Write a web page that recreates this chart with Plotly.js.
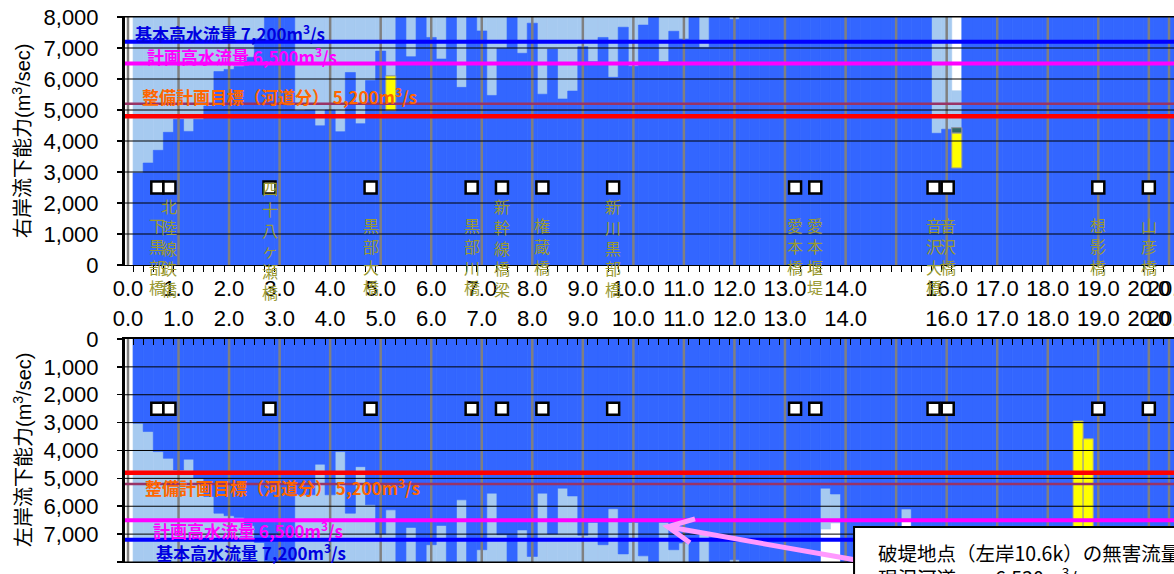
<!DOCTYPE html>
<html><head><meta charset="utf-8">
<script src="https://cdn.plot.ly/plotly-3.0.1.min.js"></script>
<style>html,body{margin:0;padding:0;overflow:hidden;background:#fff}#chart{width:1174px;height:574px}</style>
</head><body><div id="chart"></div>
<script>
// ---- data (section index 1..103 along the river; km labels on the axis) ----
const tickPos  = [0,5,10,15,20,25,30,35,40,45,50,55,60,65,71,76,81,86,91,96,101,103];
const tickText = ['0.0','1.0','2.0','3.0','4.0','5.0','6.0','7.0','8.0','9.0','10.0','11.0','12.0','13.0','14.0','','16.0','17.0','18.0','19.0','20.0','20.4'];
const yTicks = [0,1000,2000,3000,4000,5000,6000,7000,8000];

// right bank (upper chart)
const rightDark = [
 2970,3290,3700,4280,4700,4310,4700,5130,6240,6310,
 6400,6700,7300,8000,8000,8000,4980,5000,4490,5000,
 4300,6210,4560,5950,6900,6100,8000,6720,8000,7340,
 6645,8000,5730,8000,7550,5470,6990,8000,6830,7800,
 5510,6970,5355,5610,7040,6560,7340,6054,7670,6410,
 7740,8000,6560,7540,7290,8000,7020,8000,8000,7930,
 8000,8000,8000,8000,8000,8000,8000,8000,8000,8000,
 8000,8000,8000,8000,8000,8000,8000,8000,8000,4250,
 4380,4430,8000,8000,8000,8000,8000,8000,8000,8000,
 8000,8000,8000,8000,8000,8000,8000,8000,8000,8000,
 8000,8000,8000];
const rightTotal = [
 8000,8000,8000,8000,8000,8000,8000,8000,8000,8000,
 8000,8000,8000,8000,8000,8000,8000,8000,8000,8000,
 8000,8000,8000,8000,8000,8000,8000,8000,8000,8000,
 8000,8000,8000,8000,8000,8000,8000,8000,8000,8000,
 8000,8000,8000,8000,8000,8000,8000,8000,8000,8000,
 8000,8000,8000,8000,8000,8000,8000,8000,8000,8000,
 8000,8000,8000,8000,8000,8000,8000,8000,8000,8000,
 8000,8000,8000,8000,8000,8000,8000,8000,8000,8000,
 8000,5620,8000,8000,8000,8000,8000,8000,8000,8000,
 8000,8000,8000,8000,8000,8000,8000,8000,8000,8000,
 8000,8000,8000];
const rightYellowPos = [26, 82], rightYellowFrom = [4980, 3130], rightYellowTo = [6100, 4260];
const rightTealPos = [82], rightTealFrom = [4260], rightTealTo = [4430];

// left bank (lower chart, reversed)
const leftDark = [
 3020,3320,4040,4280,4700,4310,5000,5650,6250,6340,
 6400,6700,7300,8000,8000,8000,5590,5590,4490,5590,
 4040,6250,4580,5950,7000,6130,8000,6760,8000,7380,
 6690,8000,5770,8000,7560,5530,7020,8000,6850,7800,
 5530,7000,5350,5630,7040,6580,7380,6090,7710,6580,
 7780,8000,6580,7560,7320,8000,6970,8000,8000,7920,
 8000,8000,8000,8000,8000,8000,8000,8000,5350,5560,
 8000,8000,8000,8000,8000,8000,6100,8000,8000,8000,
 8000,8000,8000,8000,8000,8000,8000,8000,8000,8000,
 8000,8000,8000,2940,3580,8000,8000,8000,8000,8000,
 8000,8000,8000];
const leftTotal = [
 8000,8000,8000,8000,8000,8000,8000,8000,8000,8000,
 8000,8000,8000,8000,8000,8000,8000,8000,8000,8000,
 8000,8000,8000,8000,8000,8000,8000,8000,8000,8000,
 8000,8000,8000,8000,8000,8000,8000,8000,8000,8000,
 8000,8000,8000,8000,8000,8000,8000,8000,8000,8000,
 8000,8000,8000,8000,8000,8000,8000,8000,8000,8000,
 8000,8000,8000,8000,8000,8000,8000,8000,6820,6600,
 8000,8000,8000,8000,8000,8000,6550,8000,8000,8000,
 8000,8000,8000,8000,8000,8000,8000,8000,8000,8000,
 8000,8000,8000,8000,8000,8000,8000,8000,8000,8000,
 8000,8000,8000];
const leftYellowPos = [94, 95], leftYellowFrom = [2940, 3580], leftYellowTo = [8000, 8000];

// bridges
const bridgeNames = ['下黒部橋','北陸線鉄橋','四十八ヶ瀬橋','黒部大橋','黒部川橋','新幹線橋梁','権蔵橋','新川黒部橋','愛本橋','愛本堰堤','音沢大橋','音沢橋','想影橋','山彦橋'];
const bridgePos   = [2.9, 4.1, 14.0, 24.0, 34.0, 37.0, 41.0, 48.0, 66.0, 68.0, 79.7, 81.1, 96.0, 101.0];
const bridgeMarkY = 2500;

// reference discharges
const refValues = [7200, 6500, 5200, 4800];
const refLabels = {7200:'基本高水流量 7,200m<sup>3</sup>/s', 6500:'計画高水流量 6,500m<sup>3</sup>/s', 5200:'整備計画目標（河道分） 5,200m<sup>3</sup>/s'};

// ---- styles ----
const X_MIN = -0.297, X_MAX = 103.49;
const DARK = '#3366FF', LIGHT = '#A6CAF0', YELLOW = '#FFFF00', TEAL = '#336666';
const refStyle = {7200:{c:'#0000FF',w:4}, 6500:{c:'#FF00FF',w:4}, 5200:{c:'#993366',w:2.5}, 4800:{c:'#FF0000',w:4.5}};
const refTextColor = {7200:'#0000E0', 6500:'#FF00FF', 5200:'#FF6600'};
const pos = rightDark.map((_, i) => i + 1);

function bars(vals, color, xa, ya) {
  return {type:'bar', x:pos, y:vals, width:1, xaxis:xa, yaxis:ya,
    marker:{color:color, line:{color:color, width:0.6}}, hoverinfo:'skip', showlegend:false};
}
function seg(p, from, to, color, xa, ya) {
  return {type:'bar', x:p, base:from, y:to.map((t,i)=>t-from[i]), width:1, xaxis:xa, yaxis:ya,
    marker:{color:color, line:{color:'#9a9a9a', width:1}}, hoverinfo:'skip', showlegend:false};
}
function gridTraces(xa, ya) {
  const vx=[], vy=[];
  tickPos.forEach(t => { vx.push(t,t,null); vy.push(0,8000,null); });
  const hx=[], hy=[];
  yTicks.slice(1).forEach(v => { hx.push(X_MIN,X_MAX,null); hy.push(v,v,null); });
  const out = [
    {type:'scatter', mode:'lines', x:vx, y:vy, xaxis:xa, yaxis:ya, line:{color:'#808080', width:2.5}, hoverinfo:'skip', showlegend:false},
    {type:'scatter', mode:'lines', x:hx, y:hy, xaxis:xa, yaxis:ya, line:{color:'#000', width:1}, hoverinfo:'skip', showlegend:false}
  ];
  refValues.forEach(v => out.push({type:'scatter', mode:'lines', x:[X_MIN,X_MAX], y:[v,v], xaxis:xa, yaxis:ya,
    line:{color:refStyle[v].c, width:refStyle[v].w}, hoverinfo:'skip', showlegend:false}));
  out.push({type:'scatter', mode:'markers', x:bridgePos, y:bridgePos.map(()=>bridgeMarkY), xaxis:xa, yaxis:ya,
    marker:{symbol:'square', size:12, color:'#fff', line:{color:'#000', width:2.5}}, hoverinfo:'skip', showlegend:false});
  return out;
}

const data = [
  bars(rightTotal, LIGHT, 'x', 'y'),
  bars(rightDark, DARK, 'x', 'y'),
  seg(rightYellowPos, rightYellowFrom, rightYellowTo, YELLOW, 'x', 'y'),
  seg(rightTealPos, rightTealFrom, rightTealTo, TEAL, 'x', 'y'),
  bars(leftTotal, LIGHT, 'x2', 'y2'),
  bars(leftDark, DARK, 'x2', 'y2'),
  seg(leftYellowPos, leftYellowFrom, leftYellowTo, YELLOW, 'x2', 'y2'),
  ...gridTraces('x', 'y'),
  ...gridTraces('x2', 'y2')
];

const tickFont = {family:'Liberation Sans, Arial, sans-serif', size:22, color:'#000'};
const cjk = 'Noto Sans CJK JP, sans-serif';
function xAxis(anchor, side, minorDir) {
  return {range:[X_MIN,X_MAX], anchor:anchor, side:side, tickmode:'array', tickvals:tickPos, ticktext:tickText,
    tickangle:0, automargin:false, ticklabeloverflow:'allow',
    ticks:'', showgrid:false, zeroline:false, showline:true, linecolor:'#000', linewidth:1.5, mirror:true,
    tickfont:tickFont, ticklabelstandoff: side==='top' ? 3 : 3,
    minor:{tickmode:'linear', tick0:0.5, dtick:1, ticks:minorDir, ticklen:6, tickcolor:'#000', tickwidth:1, showgrid:false}};
}
function yAxis(anchor, domain, range) {
  return {anchor:anchor, domain:domain, range:range, tickmode:'array', tickvals:yTicks, tickformat:',d',
    ticks:'outside', ticklen:5, tickwidth:1.5, tickcolor:'#000', showline:true, linewidth:3, linecolor:'#000',
    showgrid:false, zeroline:false, tickfont:tickFont, ticklabelstandoff:14, automargin:false};
}

const annotations = [];
// y titles
annotations.push({xref:'paper', yref:'paper', x:-0.0982, y:0.7544, xanchor:'center', yanchor:'middle', textangle:-90,
  text:'右岸流下能力(m<sup>3</sup>/sec)', showarrow:false, font:{family:'Liberation Sans, Noto Sans CJK JP, sans-serif', size:20, color:'#000'}});
annotations.push({xref:'paper', yref:'paper', x:-0.0982, y:0.216, xanchor:'center', yanchor:'middle', textangle:-90,
  text:'左岸流下能力(m<sup>3</sup>/sec)', showarrow:false, font:{family:'Liberation Sans, Noto Sans CJK JP, sans-serif', size:20, color:'#000'}});
// reference line labels
const refLabelPosTop = {7200:[0.5,7484], 6500:[1.7,6742], 5200:[1.2,5452]};
const refLabelPosBot = {7200:[2.6,7634], 6500:[2.3,6846], 5200:[1.5,5305]};
[7200,6500,5200].forEach(v => {
  const f = {family:cjk, size:17, color:refTextColor[v], weight:'bold'};
  annotations.push({xref:'x', yref:'y', x:refLabelPosTop[v][0], y:refLabelPosTop[v][1], xanchor:'left', yanchor:'middle', text:'<b>'+refLabels[v]+'</b>', showarrow:false, font:f});
  annotations.push({xref:'x2', yref:'y2', x:refLabelPosBot[v][0], y:refLabelPosBot[v][1], xanchor:'left', yanchor:'middle', text:'<b>'+refLabels[v]+'</b>', showarrow:false, font:f});
});
// bridge labels (vertical)
const bfont = {family:cjk, size:16, color:'#999933'};
bridgeNames.forEach((name, i) => {
  const ch = Array.from(name), n = ch.length, txt = ch.join('<br>');
  annotations.push({xref:'x', yref:'y', x:bridgePos[i], y:1710 + Math.max(0, n-4)*597, xanchor:'center', yanchor:'top',
    text:txt, showarrow:false, font:bfont, borderpad:0});
  annotations.push({xref:'x2', yref:'y2', x:bridgePos[i], y:-1183 + Math.max(0, 4-n)*717, xanchor:'center', yanchor:'top',
    text:txt, showarrow:false, font:bfont, borderpad:0});
});
// note box text
annotations.push({xref:'paper', yref:'paper', x:0.7169, y:0.0636, xanchor:'left', yanchor:'top', align:'left',
  text:'破堤地点（左岸10.6k）の無害流量<br>現況河道　　6,530m<sup>3</sup>/s', showarrow:false,
  font:{family:cjk, size:19.5, color:'#000'}, borderpad:0});

const shapes = [
  {type:'path', xref:'x2', yref:'y2', path:'M 71.9,7921 L 53.4,6738 M 56.1,6452 L 53.4,6738 L 55.6,7312',
   line:{color:'#FF99FF', width:5}, layer:'above'},
  {type:'rect', xref:'paper', yref:'paper', x0:0.6950, x1:1.2, y0:-0.2, y1:0.0819,
   fillcolor:'#fff', line:{color:'#000', width:2}, layer:'above'}
];

const layout = {
  width:1174, height:574, autosize:false,
  margin:{l:125, r:0, t:0, b:0, pad:0},
  paper_bgcolor:'#fff', plot_bgcolor:'#fff',
  barmode:'overlay', bargap:0, showlegend:false,
  xaxis: xAxis('y', 'bottom', 'outside'),
  xaxis2: xAxis('y2', 'top', 'inside'),
  yaxis: yAxis('x', [0.53833, 0.97038], [0, 8000]),
  yaxis2: yAxis('x2', [0.02091, 0.40941], [8000, 0]),
  annotations: annotations,
  shapes: shapes
};
Plotly.newPlot('chart', data, layout, {staticPlot:true, displayModeBar:false});
</script></body></html>
